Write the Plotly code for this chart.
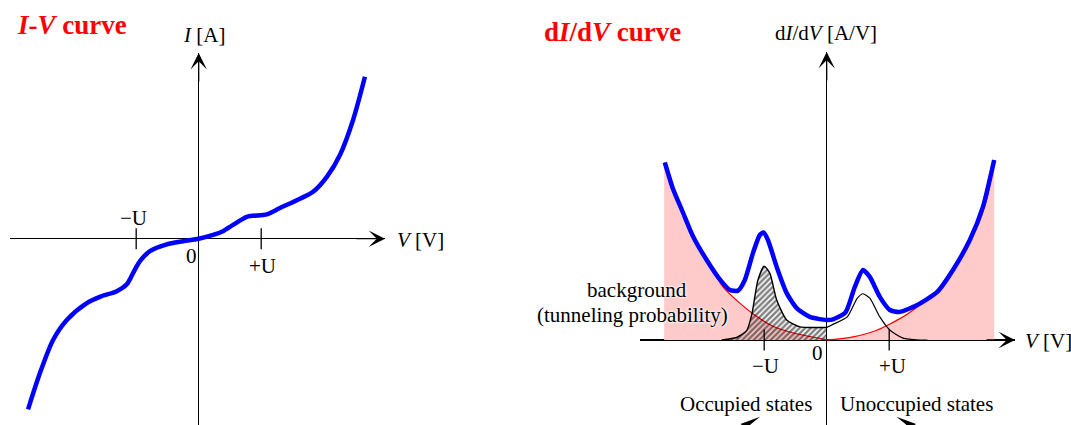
import plotly.graph_objects as go

# ---------------- data (V in units of U, currents / conductance arbitrary units) -------------
# I-V curve
iv_v = [-2.73, -2.54, -2.33, -2.11, -1.79, -1.58, -1.31, -1.15, -1.05, -0.94, -0.78, -0.51,
        -0.25, 0.0, 0.23, 0.39, 0.55, 0.77, 1.09, 1.30, 1.62, 1.83, 2.05, 2.26, 2.47, 2.66]
iv_i = [-2.73, -2.15, -1.62, -1.30, -1.03, -0.93, -0.84, -0.73, -0.55, -0.36, -0.20, -0.09,
        -0.04, 0.0, 0.06, 0.12, 0.22, 0.35, 0.39, 0.49, 0.64, 0.75, 0.99, 1.34, 1.90, 2.59]

# dI/dV: background (tunneling probability)
bg_v = [-2.60, -2.46, -2.19, -1.92, -1.66, -1.39, -1.18, -0.86, -0.48, -0.03, 0.0,
        0.42, 0.81, 1.22, 1.49, 1.77, 2.02, 2.18, 2.41, 2.57, 2.68]
bg_g = [2.84, 2.40, 1.76, 1.28, 0.85, 0.59, 0.42, 0.22, 0.10, 0.01, 0.0,
        0.05, 0.16, 0.37, 0.56, 0.80, 1.15, 1.39, 1.81, 2.29, 2.88]

# dI/dV: total measured signal
didv_v = [-2.59, -2.46, -2.30, -2.14, -1.92, -1.71, -1.55, -1.42, -1.31, -1.18, -1.07, -1.01,
          -0.94, -0.80, -0.64, -0.48, -0.27, 0.0, 0.10, 0.30, 0.45, 0.58, 0.69, 0.85, 1.01,
          1.17, 1.45, 1.77, 2.02, 2.29, 2.50, 2.68]
didv_g = [2.84, 2.42, 2.04, 1.66, 1.28, 0.97, 0.80, 0.79, 0.96, 1.39, 1.68, 1.72,
          1.60, 1.17, 0.75, 0.51, 0.37, 0.32, 0.33, 0.44, 0.85, 1.12, 1.01, 0.69, 0.48,
          0.45, 0.56, 0.77, 1.12, 1.60, 2.13, 2.88]

# occupied states (hatched) and unoccupied states
occ_v = [-1.68, -1.44, -1.28, -1.20, -1.10, -1.00, -0.91, -0.80, -0.64, -0.43, -0.03, 0.0]
occ_g = [0.0, 0.04, 0.15, 0.40, 0.96, 1.18, 1.07, 0.64, 0.32, 0.21, 0.20, 0.20]
unocc_v = [0.0, 0.10, 0.33, 0.49, 0.58, 0.69, 0.85, 1.01, 1.22, 1.49, 1.61]
unocc_g = [0.20, 0.25, 0.37, 0.67, 0.74, 0.67, 0.37, 0.16, 0.03, 0.0, 0.0]

tick_v = [-1, 1]
tick_labels = ["\u2212U", "+U"]

# direction arrows for occupied (left) / unoccupied (right) states: tip positions in V
dir_tip_v = [-1.38, 1.43]

# ---------------- figure ------------------------------------------------------------------
W, H = 1071, 425
FONT = "Liberation Serif"
FS = 21


def px(x, y):
    return x / W, 1 - y / H


fig = go.Figure()

# left panel
fig.add_trace(go.Scatter(x=iv_v, y=iv_i, mode="lines", line=dict(color="#0000ff", width=4.5,
                         shape="spline", smoothing=0.8), xaxis="x", yaxis="y", hoverinfo="skip"))
fig.add_trace(go.Scatter(x=tick_v, y=[0, 0], mode="markers", xaxis="x", yaxis="y",
                         marker=dict(symbol="line-ns", size=15, line=dict(width=1.3, color="black")),
                         hoverinfo="skip"))

# right panel
fig.add_trace(go.Scatter(x=bg_v, y=bg_g, mode="lines", fill="tozeroy", fillcolor="rgb(255,202,202)",
                         line=dict(color="red", width=1.2, shape="spline", smoothing=0.6),
                         xaxis="x2", yaxis="y2", hoverinfo="skip"))
fig.add_trace(go.Scatter(x=occ_v, y=occ_g, mode="lines", fill="tozeroy",
                         fillcolor="rgba(0,0,0,0)",
                         fillpattern=dict(shape="/", fgcolor="black", bgcolor="rgba(0,0,0,0)",
                                          size=4, solidity=0.62),
                         line=dict(color="black", width=1.4, shape="spline", smoothing=0.6),
                         xaxis="x2", yaxis="y2", hoverinfo="skip"))
fig.add_trace(go.Scatter(x=unocc_v, y=unocc_g, mode="lines",
                         line=dict(color="black", width=1.2, shape="spline", smoothing=0.6),
                         xaxis="x2", yaxis="y2", hoverinfo="skip"))
fig.add_trace(go.Scatter(x=didv_v, y=didv_g, mode="lines",
                         line=dict(color="#0000ff", width=4.5, shape="spline", smoothing=0.6),
                         xaxis="x2", yaxis="y2", hoverinfo="skip"))
fig.add_trace(go.Scatter(x=tick_v, y=[0, 0], mode="markers", xaxis="x2", yaxis="y2",
                         marker=dict(symbol="line-ns", size=15, line=dict(width=1.3, color="black")),
                         hoverinfo="skip"))

ax_common = dict(showgrid=False, showticklabels=False, ticks="", zeroline=True,
                 zerolinecolor="black", zerolinewidth=1.3, showline=False, fixedrange=True)

fig.update_layout(
    width=W, height=H, margin=dict(l=0, r=0, t=0, b=0),
    paper_bgcolor="white", plot_bgcolor="white", showlegend=False,
    font=dict(family=FONT, color="black", size=FS),
    xaxis=dict(domain=[10 / W, 385 / W], range=[-3.019, 2.981], anchor="y", **ax_common),
    yaxis=dict(domain=[0, 372 / H], range=[-2.981, 2.971], anchor="x", **ax_common),
    xaxis2=dict(domain=[640 / W, 1015 / W], range=[-2.987, 3.013], anchor="y2", **ax_common),
    yaxis2=dict(domain=[0, 373 / H], range=[-1.36, 4.608], anchor="x2", **ax_common),
)

ann = []


def arrow(x, y, xref, yref, axp, ayp, size=2.1):
    ann.append(dict(x=x, y=y, xref=xref, yref=yref, ax=axp, ay=ayp, axref="pixel", ayref="pixel",
                    showarrow=True, arrowhead=3, arrowsize=size, arrowwidth=1.3, arrowcolor="black",
                    standoff=0, text=""))


# axis arrow heads
arrow(2.981, 0, "x", "y", -30, 0)
arrow(0, 2.971, "x", "y", 0, 30)
arrow(3.013, 0, "x2", "y2", -30, 0)
arrow(0, 4.608, "x2", "y2", 0, 30)
# direction arrows (only their heads peek in at the bottom edge)
arrow(dir_tip_v[0], -0.007, "x2", "paper", 9, 0, size=2.4)
arrow(dir_tip_v[1], -0.007, "x2", "paper", -9, 0, size=2.4)


def text(x, y, s, size=FS, color="black", xanchor="center", **kw):
    X, Y = px(x, y)
    ann.append(dict(x=X, y=Y, xref="paper", yref="paper", text=s, showarrow=False,
                    xanchor=xanchor, yanchor="middle",
                    font=dict(family=FONT, size=size, color=color, **kw)))


text(15, 25, "<b><i>I</i>-<i>V</i> curve</b>", size=27, color="red", xanchor="left")
text(542, 32, "<b>d<i>I</i>/d<i>V</i> curve</b>", size=27, color="red", xanchor="left")
text(204, 35, "<i>I</i> [A]")
text(420, 240, "<i>V</i> [V]")
text(826, 33, "d<i>I</i>/d<i>V</i> [A/V]")
text(1048, 341, "<i>V</i> [V]")
text(133, 218, tick_labels[0])
text(191, 256, "0")
text(262, 266, tick_labels[1])
text(765, 366, tick_labels[0])
text(817, 353, "0")
text(892, 366, tick_labels[1])
halo = "white 0px 0px 3px, white 0px 0px 3px, white 0px 0px 2px"
text(637, 290, "background", shadow=halo)
text(632, 315, "(tunneling probability)", shadow=halo)
text(746, 404, "Occupied states")
text(916, 404, "Unoccupied states")

fig.update_layout(annotations=ann)

fig.write_html("out.html", config={"displayModeBar": False, "staticPlot": True},
               post_script="document.body.style.margin='0';")
